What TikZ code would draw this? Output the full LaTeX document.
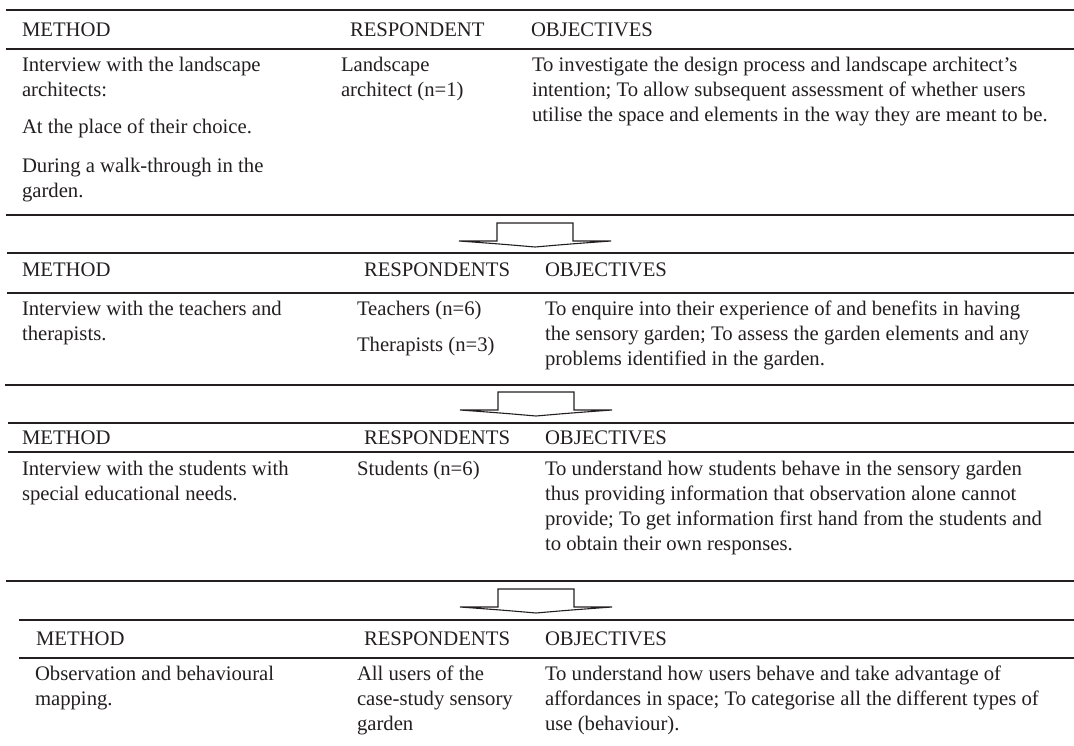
\documentclass[tikz,border=0pt]{standalone}
\usepackage{fontspec}
\setmainfont{Liberation Serif}
\definecolor{ink}{RGB}{35,31,32}
\begin{document}
\begin{tikzpicture}[x=1pt,y=-1pt,
  rule/.style={line width=1.8pt, draw=ink},
  txt/.style={anchor=base west, inner sep=0pt, outer sep=0pt, text=ink, font=\fontsize{20.7}{25}\selectfont},
  blockarrow/.style={line width=1.1pt, draw=ink, fill=white, line join=miter},
  downarrow/.pic={\draw[blockarrow] (-76,0) -- (-38,0) -- (-38,-18) -- (38,-18) -- (38,0) -- (76,0)
      .. controls (35,3) .. (0,6) .. controls (-35,3) .. (-76,0) -- cycle;}]
\useasboundingbox (0,0) rectangle (1074,745);

% horizontal rules
\draw[rule] (6,10) -- (1074,10);
\draw[rule] (6,49) -- (1074,49);
\draw[rule] (6,215) -- (1074,215);
\draw[rule] (7,253) -- (1074,253);
\draw[rule] (7,293) -- (1074,293);
\draw[rule] (5,385) -- (1074,385);
\draw[rule] (8,423) -- (1074,423);
\draw[rule] (8,452) -- (1074,452);
\draw[rule] (6,581) -- (1074,581);
\draw[rule] (19,620) -- (1074,620);
\draw[rule] (19,658) -- (1074,658);

% arrows between blocks
\pic (a1) at (535,241) {downarrow};
\pic (a2) at (536,410) {downarrow};
\pic (a3) at (536,607) {downarrow};

% block 1
\node[txt] (h1m) at (22,36) {METHOD};
\node[txt] (h1r) at (350,36) {RESPONDENT};
\node[txt] (h1o) at (531,36) {OBJECTIVES};
\node[txt] (b1m1) at (22,71) {Interview with the landscape};
\node[txt] (b1m2) at (22,96) {architects:};
\node[txt] (b1m3) at (22,133) {At the place of their choice.};
\node[txt] (b1m4) at (22,172) {During a walk-through in the};
\node[txt] (b1m5) at (22,197) {garden.};
\node[txt] (b1r1) at (341,71) {Landscape};
\node[txt] (b1r2) at (341,96) {architect (n=1)};
\node[txt] (b1o1) at (532,71) {To investigate the design process and landscape architect’s};
\node[txt] (b1o2) at (532,96) {intention; To allow subsequent assessment of whether users};
\node[txt] (b1o3) at (532,121) {utilise the space and elements in the way they are meant to be.};

% block 2
\node[txt] (h2m) at (22,276) {METHOD};
\node[txt] (h2r) at (364,276) {RESPONDENTS};
\node[txt] (h2o) at (545,276) {OBJECTIVES};
\node[txt] (b2m1) at (22,315) {Interview with the teachers and};
\node[txt] (b2m2) at (22,340) {therapists.};
\node[txt] (b2r1) at (357,315) {Teachers (n=6)};
\node[txt] (b2r2) at (357,351) {Therapists (n=3)};
\node[txt] (b2o1) at (545,315) {To enquire into their experience of and benefits in having};
\node[txt] (b2o2) at (545,340) {the sensory garden; To assess the garden elements and any};
\node[txt] (b2o3) at (545,365) {problems identified in the garden.};

% block 3
\node[txt] (h3m) at (22,444) {METHOD};
\node[txt] (h3r) at (364,444) {RESPONDENTS};
\node[txt] (h3o) at (545,444) {OBJECTIVES};
\node[txt] (b3m1) at (22,475) {Interview with the students with};
\node[txt] (b3m2) at (22,500) {special educational needs.};
\node[txt] (b3r1) at (357,475) {Students (n=6)};
\node[txt] (b3o1) at (545,475) {To understand how students behave in the sensory garden};
\node[txt] (b3o2) at (545,500) {thus providing information that observation alone cannot};
\node[txt] (b3o3) at (545,525) {provide; To get information first hand from the students and};
\node[txt] (b3o4) at (545,550) {to obtain their own responses.};

% block 4
\node[txt] (h4m) at (36,645) {METHOD};
\node[txt] (h4r) at (364,645) {RESPONDENTS};
\node[txt] (h4o) at (545,645) {OBJECTIVES};
\node[txt] (b4m1) at (35,680) {Observation and behavioural};
\node[txt] (b4m2) at (35,705) {mapping.};
\node[txt] (b4r1) at (357,680) {All users of the};
\node[txt] (b4r2) at (357,705) {case-study sensory};
\node[txt] (b4r3) at (357,730) {garden};
\node[txt] (b4o1) at (545,680) {To understand how users behave and take advantage of};
\node[txt] (b4o2) at (545,705) {affordances in space; To categorise all the different types of};
\node[txt] (b4o3) at (545,730) {use (behaviour).};
\end{tikzpicture}
\end{document}
